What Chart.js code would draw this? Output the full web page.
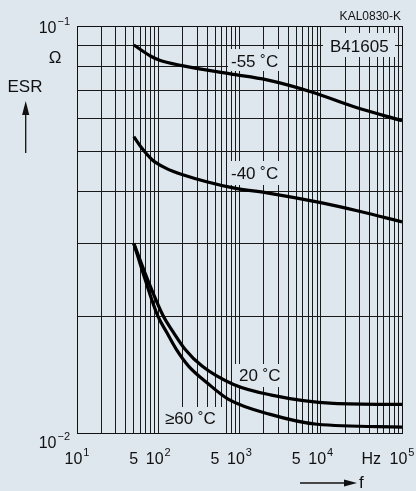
<!DOCTYPE html>
<html>
<head>
<meta charset="utf-8">
<script src="https://cdn.jsdelivr.net/npm/chart.js@4"></script>
<style>
  html, body { margin: 0; padding: 0; background: #dee6ee; }
  #wrap { width: 416px; height: 491px; }
</style>
</head>
<body>
<div id="wrap"><canvas id="esr-chart" width="416" height="491"></canvas></div>
<script>
// ESR over frequency (Hz, ohm)
const freq55 = [50, 80, 106, 196, 771, 2180, 8100, 25170, 100000];
const esr55 = [0.0900, 0.0847, 0.0826, 0.0803, 0.0767, 0.0742, 0.0692, 0.0640, 0.0592];

const freq40 = [50, 62, 84, 122, 200, 839, 2180, 10000, 30700, 100000];
const esr40 = [0.0542, 0.0510, 0.0477, 0.0456, 0.0439, 0.0408, 0.0397, 0.0376, 0.0358, 0.0338];

const freq20 = [50, 74, 114, 155, 215, 346, 845, 2393, 14270, 100000];
const esr20 = [0.0300, 0.02455, 0.02015, 0.01829, 0.01668, 0.01521, 0.01374, 0.01297, 0.01237, 0.01230];

const freq60 = [50, 69, 98, 128, 167, 236, 398, 734, 2393, 8990, 100000];
const esr60 = [0.0300, 0.02455, 0.02015, 0.01829, 0.01668, 0.01521, 0.01387, 0.01265, 0.01164, 0.01102, 0.01085];

const curveLabels = ["-55 ˚C", "-40 ˚C", "20 ˚C", "≥60 ˚C"];

// tick labels
const xLabelValues = [10, 50, 100, 500, 1000, 5000, 10000, 50000, 100000];
const xLabelBase = ["10", "5", "10", "5", "10", "5", "10", "Hz", "10"];
const xLabelSup = ["1", "", "2", "", "3", "", "4", "", "5"];
const yLabelValues = [0.1, 0.01];
const yLabelBase = ["10", "10"];
const yLabelSup = ["−1", "−2"];

const xMin = 10, xMax = 100000;
const yMin = 0.0105, yMax = 0.1;

const FONT = "'Liberation Sans', Arial, sans-serif";
const BG = "#dee6ee";

function pts(xs, ys) {
  return xs.map((x, i) => ({ x: x, y: ys[i] }));
}

// grid at every 1..9 of each decade
function logGrid(lo, hi) {
  const out = [];
  for (let d = Math.floor(Math.log10(lo)); d <= Math.ceil(Math.log10(hi)); d++) {
    for (let m = 1; m <= 9; m++) {
      const v = m * Math.pow(10, d);
      if (v >= lo * 0.999 && v <= hi * 1.001) out.push(v);
    }
  }
  return out;
}

// "10" with a small raised exponent, y is the baseline
function supText(ctx, base, sup, x, y, align) {
  ctx.font = "16px " + FONT;
  const wb = ctx.measureText(base).width;
  ctx.font = "11px " + FONT;
  const ws = sup ? ctx.measureText(sup).width + 1 : 0;
  const total = wb + ws;
  let left = x;
  if (align === "center") left = x - total / 2;
  if (align === "right") left = x - total;
  ctx.textAlign = "left";
  ctx.textBaseline = "alphabetic";
  ctx.font = "16px " + FONT;
  ctx.fillText(base, left, y);
  if (sup) {
    ctx.font = "11px " + FONT;
    ctx.fillText(sup, left + wb + 1, y - 8);
  }
}

function boxLabel(ctx, text, left, base, bx, by, bw, bh) {
  ctx.fillStyle = BG;
  ctx.fillRect(bx, by, bw, bh);
  ctx.fillStyle = "#111";
  ctx.font = "17px " + FONT;
  ctx.textAlign = "left";
  ctx.textBaseline = "alphabetic";
  ctx.fillText(text, left, base);
}

const labelPlugin = {
  id: "labels",
  beforeDatasetsDraw(chart) {
    const ctx = chart.ctx;
    ctx.save();
    boxLabel(ctx, curveLabels[0], 231, 67, 228, 49, 60, 22);
    boxLabel(ctx, "B41605", 330, 52, 323, 33, 72, 24);
    boxLabel(ctx, curveLabels[1], 231, 179, 228, 161, 60, 24);
    boxLabel(ctx, curveLabels[2], 239, 381, 235, 364, 52, 23);
    boxLabel(ctx, curveLabels[3], 165, 424, 162, 407, 62, 26);
    ctx.restore();
  },
  afterDraw(chart) {
    const ctx = chart.ctx;
    const a = chart.chartArea;
    const xs = chart.scales.x;
    const ys = chart.scales.y;
    ctx.save();
    ctx.strokeStyle = "#111";
    ctx.lineWidth = 1;
    ctx.strokeRect(Math.round(a.left) + 0.5, Math.round(a.top) + 0.5,
      Math.round(a.right - a.left), Math.round(a.bottom - a.top));

    ctx.fillStyle = "#111";
    // x tick labels
    xLabelValues.forEach((v, i) => {
      const px = xs.getPixelForValue(v);
      if (xLabelBase[i] === "Hz") {
        supText(ctx, "Hz", "", xs.getPixelForValue(xMax) - 21, 464, "right");
      } else {
        supText(ctx, xLabelBase[i], xLabelSup[i], px, 464, "center");
      }
    });
    // y tick labels
    yLabelValues.forEach((v, i) => {
      supText(ctx, yLabelBase[i], yLabelSup[i], 70, ys.getPixelForValue(v) + 6.5, "right");
    });

    ctx.textAlign = "center";
    ctx.textBaseline = "alphabetic";
    ctx.font = "17px " + FONT;
    ctx.fillText("Ω", 55, 63);
    ctx.fillText("ESR", 25, 92);
    ctx.font = "12px " + FONT;
    ctx.textAlign = "right";
    ctx.fillText("KAL0830-K", 401, 20);

    // ESR arrow
    ctx.lineWidth = 1.3;
    ctx.beginPath();
    ctx.moveTo(25.7, 153);
    ctx.lineTo(25.7, 112);
    ctx.stroke();
    ctx.beginPath();
    ctx.moveTo(25.7, 101);
    ctx.lineTo(29.3, 115);
    ctx.lineTo(22.1, 115);
    ctx.closePath();
    ctx.fill();

    // f arrow
    ctx.beginPath();
    ctx.moveTo(300, 483);
    ctx.lineTo(348, 483);
    ctx.stroke();
    ctx.beginPath();
    ctx.moveTo(357, 483);
    ctx.lineTo(344, 479.5);
    ctx.lineTo(344, 486.5);
    ctx.closePath();
    ctx.fill();
    ctx.font = "17px " + FONT;
    ctx.textAlign = "left";
    ctx.fillText("f", 359, 488);
    ctx.restore();
  }
};

const xGrid = logGrid(xMin, xMax);
const yGrid = logGrid(0.01, yMax).filter(v => v >= yMin);

const lineStyle = {
  borderColor: "#000",
  borderWidth: 3.2,
  pointRadius: 0,
  fill: false,
  cubicInterpolationMode: "monotone"
};

new Chart(document.getElementById("esr-chart"), {
  type: "line",
  data: {
    datasets: [
      Object.assign({ label: curveLabels[0], data: pts(freq55, esr55) }, lineStyle),
      Object.assign({ label: curveLabels[1], data: pts(freq40, esr40) }, lineStyle),
      Object.assign({ label: curveLabels[2], data: pts(freq20, esr20) }, lineStyle),
      Object.assign({ label: curveLabels[3], data: pts(freq60, esr60) }, lineStyle)
    ]
  },
  options: {
    responsive: false,
    animation: false,
    devicePixelRatio: 1,
    layout: { padding: { left: 77, top: 26, right: 14, bottom: 58 } },
    plugins: {
      legend: { display: false },
      tooltip: { enabled: false }
    },
    scales: {
      x: {
        type: "logarithmic",
        min: xMin,
        max: xMax,
        afterBuildTicks: (s) => { s.ticks = xGrid.map(v => ({ value: v })); },
        ticks: { display: false },
        grid: { color: "#1a1a1a", lineWidth: 1, drawTicks: false },
        border: { display: true, color: "#111" }
      },
      y: {
        type: "logarithmic",
        min: yMin,
        max: yMax,
        afterBuildTicks: (s) => { s.ticks = yGrid.map(v => ({ value: v })); },
        ticks: { display: false },
        grid: { color: "#1a1a1a", lineWidth: 1, drawTicks: false },
        border: { display: true, color: "#111" }
      }
    }
  },
  plugins: [labelPlugin]
});
</script>
</body>
</html>
